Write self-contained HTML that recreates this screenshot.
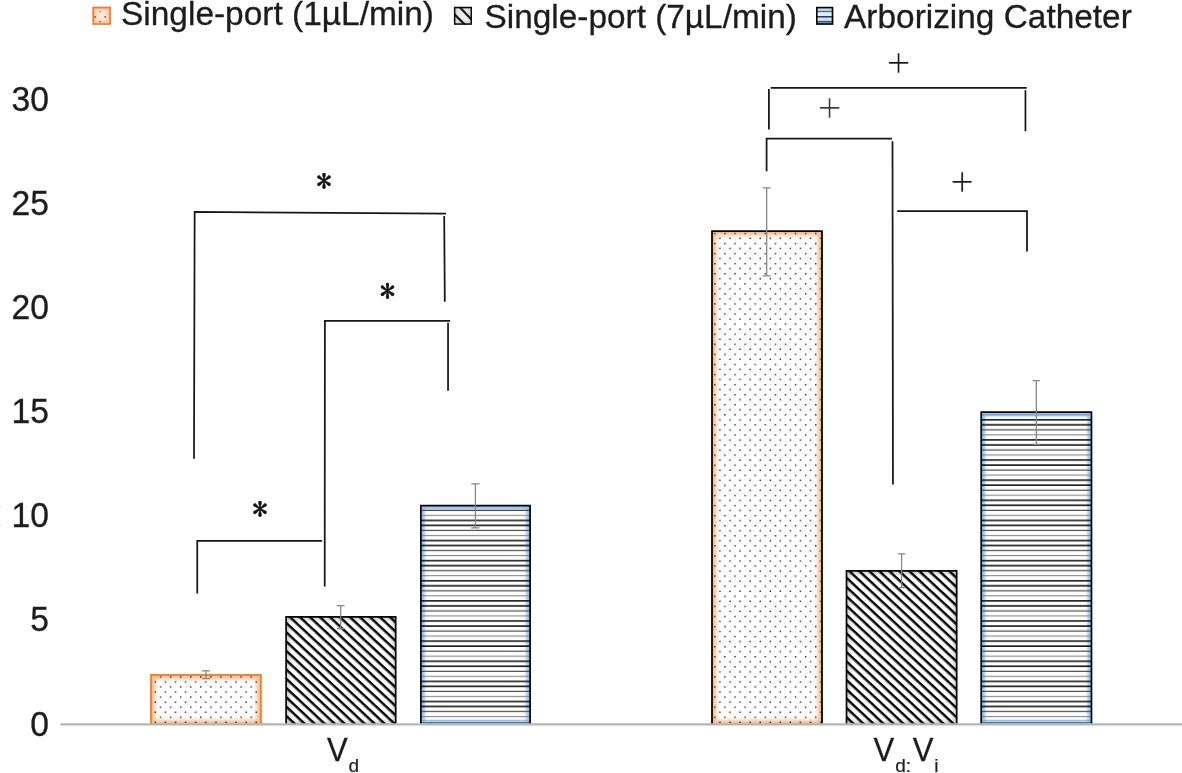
<!DOCTYPE html>
<html lang="en">
<head>
<meta charset="utf-8">
<title>Volume of distribution chart</title>
<style>
html,body{margin:0;padding:0;background:#fff;overflow:hidden}
svg{display:block;opacity:0.999}
text{font-family:"Liberation Sans",sans-serif;fill:#1c1c1c}
.t{font-size:33px;stroke:#1c1c1c;stroke-width:0.3px}
.yl{font-size:34.3px;stroke:#1c1c1c;stroke-width:0.3px;text-anchor:end}
.sub{font-size:19px;stroke-width:0.2px}
.ast{font-family:"IPAGothic","Liberation Serif",serif;font-size:31px;fill:#111;stroke:#111;stroke-width:0.6px}
.plus{font-family:"Liberation Serif",serif;font-size:42px;fill:#161616;stroke:#fff;stroke-width:0.4px}
.br{fill:none;stroke:#161616;stroke-width:1.75}
.eb{fill:none;stroke:#868686;stroke-width:1.25}
</style>
</head>
<body>
<svg width="1182" height="773" viewBox="0 0 1182 773">
<defs>
  <pattern id="dots" x="714.17" y="232.70" width="10.08" height="10.08" patternUnits="userSpaceOnUse">
    <rect x="0" y="0" width="1.4" height="1.4" fill="#262626"/>
    <rect x="5.04" y="5.04" width="1.4" height="1.4" fill="#262626"/>
  </pattern>
  <pattern id="diag" x="287" y="621.98" width="6.810" height="6.810" patternUnits="userSpaceOnUse" patternTransform="rotate(42.92 287 621.98)">
    <rect x="0" y="0" width="6.810" height="2.45" fill="#050505"/>
  </pattern>
  <pattern id="diag5" x="847.4" y="576.93" width="6.810" height="6.810" patternUnits="userSpaceOnUse" patternTransform="rotate(42.92 847.4 576.93)">
    <rect x="0" y="0" width="6.810" height="2.45" fill="#050505"/>
  </pattern>
  <pattern id="hl" x="0" y="434.30" width="20" height="20.12" patternUnits="userSpaceOnUse">
    <rect x="0" y="0.1" width="20" height="1.0" fill="#7a7a7a"/>
    <rect x="0" y="4.88" width="20" height="1.5" fill="#0e0e0e"/>
    <rect x="0" y="9.91" width="20" height="1.5" fill="#060606"/>
    <rect x="0" y="15.09" width="20" height="1.2" fill="#4a4a4a"/>
  </pattern>
  <filter id="blur2" x="-30%" y="-30%" width="160%" height="160%"><feGaussianBlur stdDeviation="1.6"/></filter>
  <filter id="blur3" x="-20%" y="-20%" width="140%" height="140%"><feGaussianBlur stdDeviation="2.3"/></filter>
  <filter id="blur1" x="-20%" y="-20%" width="140%" height="140%"><feGaussianBlur stdDeviation="1.6"/></filter>
  <clipPath id="m1"><rect x="92.5" y="6.8" width="18.4" height="18"/></clipPath>
  <clipPath id="m2"><rect x="454" y="6.8" width="18" height="18"/></clipPath>
  <linearGradient id="blueg" x1="0" y1="0" x2="0" y2="1">
    <stop offset="0" stop-color="#b2d3f3"/><stop offset="0.45" stop-color="#e3f0fb"/><stop offset="0.8" stop-color="#b8d7f3"/><stop offset="1" stop-color="#5f97cf"/>
  </linearGradient>
  <clipPath id="cb1"><rect x="151.0" y="674.8" width="109.90" height="49.50"/></clipPath>
  <clipPath id="cb2"><rect x="286.1" y="616.8" width="109.60" height="107.50"/></clipPath>
  <clipPath id="cb3"><rect x="420.85" y="505.65" width="109.25" height="218.65"/></clipPath>
  <clipPath id="cb4"><rect x="712.0" y="231.2" width="110.00" height="493.10"/></clipPath>
  <clipPath id="cb5"><rect x="846.5" y="570.9" width="110.20" height="153.40"/></clipPath>
  <clipPath id="cb6"><rect x="981.2" y="412.1" width="110.30" height="312.20"/></clipPath>
</defs>

<rect x="0" y="0" width="1182" height="773" fill="#fff"/>

<!-- legend -->
<g>
  <rect x="92.5" y="6.8" width="18.4" height="18" fill="#fbe7d8"/>
  <rect x="92.5" y="6.8" width="18.4" height="18" fill="none" stroke="#f3a873" stroke-width="6" filter="url(#blur2)" clip-path="url(#m1)" opacity="0.75"/>
  <g fill="#5e4a3c">
    <rect x="99.4" y="11.1" width="1.5" height="1.3" opacity="0.6"/><rect x="94.4" y="16.2" width="1.5" height="1.5"/>
    <rect x="104.5" y="16.2" width="1.5" height="1.5"/><rect x="99.4" y="21" width="1.5" height="1.4" opacity="0.8"/>
  </g>
  <rect x="93.25" y="7.55" width="16.9" height="16.5" fill="none" stroke="#ee7d2b" stroke-width="1.5"/>
  <text class="t" x="121" y="24.8" textLength="313" lengthAdjust="spacingAndGlyphs">Single-port (1µL/min)</text>

  <rect x="454" y="6.8" width="18" height="18" fill="#ececec"/>
  <rect x="454" y="6.8" width="18" height="18" fill="none" stroke="#c4c4c4" stroke-width="5" filter="url(#blur2)" clip-path="url(#m2)" opacity="0.8"/>
  <g clip-path="url(#m2)" stroke="#1c1c1c" stroke-width="2.3">
    <line x1="459.4" y1="6.8" x2="473.8" y2="22.1"/><line x1="452" y1="11.9" x2="466.7" y2="26.5"/>
  </g>
  <rect x="454.65" y="7.55" width="16.6" height="16.5" fill="none" stroke="#0a0a0a" stroke-width="1.5"/>
  <text class="t" x="484.6" y="28" textLength="312.2" lengthAdjust="spacingAndGlyphs">Single-port (7µL/min)</text>

  <rect x="816" y="6.8" width="17.3" height="18" fill="url(#blueg)"/>
  <rect x="816" y="10.8" width="17.3" height="1.3" fill="#4f6b86"/>
  <rect x="816" y="16.1" width="17.3" height="1.4" fill="#1b2836"/>
  <rect x="816" y="21.1" width="17.3" height="1.3" fill="#274768"/>
  <rect x="816.8" y="7.6" width="15.7" height="16.4" fill="none" stroke="#060606" stroke-width="1.6"/>
  <text class="t" x="844.1" y="27.8" textLength="287.7" lengthAdjust="spacingAndGlyphs">Arborizing Catheter</text>
</g>

<!-- y axis labels -->
<g>
  <text class="yl" x="48.9" y="735.5" textLength="18.7" lengthAdjust="spacingAndGlyphs">0</text>
  <text class="yl" x="48.9" y="631.4" textLength="18.7" lengthAdjust="spacingAndGlyphs">5</text>
  <text class="yl" x="48.9" y="527.3" textLength="37.4" lengthAdjust="spacingAndGlyphs">10</text>
  <text class="yl" x="48.9" y="423.2" textLength="37.4" lengthAdjust="spacingAndGlyphs">15</text>
  <text class="yl" x="48.9" y="319.1" textLength="37.4" lengthAdjust="spacingAndGlyphs">20</text>
  <text class="yl" x="48.9" y="215.0" textLength="37.4" lengthAdjust="spacingAndGlyphs">25</text>
  <text class="yl" x="48.9" y="111.0" textLength="37.4" lengthAdjust="spacingAndGlyphs">30</text>
</g>

<rect x="0" y="506.6" width="1.2" height="1" fill="#d9d9d9"/><rect x="0" y="524.6" width="1.2" height="1" fill="#d9d9d9"/>

<!-- bars -->
<g>
  <rect x="151.0" y="674.8" width="109.90" height="49.50" fill="#fff"/>
  <rect x="151.0" y="674.8" width="109.90" height="49.50" fill="none" stroke="#f7b98c" stroke-width="8" filter="url(#blur3)" clip-path="url(#cb1)"/>
  <rect x="151.0" y="674.8" width="109.90" height="49.50" fill="url(#dots)"/>
  <path d="M151.0 724.3 V674.8 H260.9 V724.3" fill="none" stroke="#ef7d2b" stroke-width="1.8"/>
</g>
<g>
  <rect x="286.1" y="616.8" width="109.60" height="107.50" fill="#fff"/>
  <rect x="286.1" y="616.8" width="109.60" height="107.50" fill="none" stroke="#bcbcbc" stroke-width="6" filter="url(#blur3)" clip-path="url(#cb2)" opacity="0.8"/>
  <rect x="286.1" y="616.8" width="109.60" height="107.50" fill="url(#diag)"/>
  <path d="M286.1 724.3 V616.8 H395.7 V724.3" fill="none" stroke="#050505" stroke-width="1.7"/>
</g>
<g>
  <rect x="420.85" y="505.65" width="109.25" height="218.65" fill="#fff"/>
  <rect x="420.85" y="505.65" width="109.25" height="218.65" fill="none" stroke="#8fbdee" stroke-width="7.5" filter="url(#blur1)" clip-path="url(#cb3)"/>
  <rect x="420.85" y="508.65" width="109.25" height="212.15" fill="url(#hl)"/>
  <rect x="420.85" y="722.10" width="109.25" height="1.1" fill="#4a6f99"/>
  <path d="M420.85 724.3 V505.65 H530.1 V724.3" fill="none" stroke="#050505" stroke-width="1.7"/>
</g>
<g>
  <rect x="712.0" y="231.2" width="110.00" height="493.10" fill="#fff"/>
  <rect x="712.0" y="231.2" width="110.00" height="493.10" fill="none" stroke="#f7b98c" stroke-width="8" filter="url(#blur3)" clip-path="url(#cb4)"/>
  <rect x="712.0" y="231.2" width="110.00" height="493.10" fill="url(#dots)"/>
  <path d="M713.2 724.3 V232.4 H820.8 V724.3" fill="none" stroke="#f6b080" stroke-width="0.6" opacity="0.7"/>
  <path d="M712.0 724.3 V231.2 H822.0 V724.3" fill="none" stroke="#050505" stroke-width="1.8"/>
</g>
<g>
  <rect x="846.5" y="570.9" width="110.20" height="153.40" fill="#fff"/>
  <rect x="846.5" y="570.9" width="110.20" height="153.40" fill="none" stroke="#bcbcbc" stroke-width="6" filter="url(#blur3)" clip-path="url(#cb5)" opacity="0.8"/>
  <rect x="846.5" y="570.9" width="110.20" height="153.40" fill="url(#diag5)"/>
  <path d="M846.5 724.3 V570.9 H956.7 V724.3" fill="none" stroke="#050505" stroke-width="1.7"/>
</g>
<g>
  <rect x="981.2" y="412.1" width="110.30" height="312.20" fill="#fff"/>
  <rect x="981.2" y="412.1" width="110.30" height="312.20" fill="none" stroke="#8fbdee" stroke-width="7.5" filter="url(#blur1)" clip-path="url(#cb6)"/>
  <rect x="981.2" y="415.1" width="110.30" height="305.70" fill="url(#hl)"/>
  <rect x="981.2" y="414.3" width="110.30" height="1" fill="#7d9cc0"/>
  <rect x="981.2" y="722.10" width="110.30" height="1.1" fill="#4a6f99"/>
  <path d="M981.2 724.3 V412.1 H1091.5 V724.3" fill="none" stroke="#050505" stroke-width="1.7"/>
</g>

<!-- axis -->
<line x1="60.4" y1="724.3" x2="1182" y2="724.3" stroke="#b5b5b5" stroke-width="2.3"/>

<!-- error bars -->
<g class="eb">
  <path d="M206 670.9 V678.7 M202.00 670.9 H210.00 M202.00 678.7 H210.00"/>
  <path d="M340.7 605.6 V628.7 M336.80 605.6 H344.60 M336.80 628.7 H344.60"/>
  <path d="M475.4 483.8 V527.9 M471.30 483.8 H479.50 M471.30 527.9 H479.50"/>
  <path d="M766.7 187.9 V275.9 M762.80 187.9 H770.60 M762.80 275.9 H770.60"/>
  <path d="M901.6 553.9 V587.6 M898.10 553.9 H905.10 M898.10 587.6 H905.10"/>
  <path d="M1036.35 380.7 V444.4 M1032.80 380.7 H1039.90 M1032.80 444.4 H1039.90"/>
</g>

<!-- significance brackets: left group -->
<g class="br">
  <path d="M194 458.8 L194.65 211.9 L446 213.7"/>
  <path d="M444.2 216 L444.8 301.8"/>
  <path d="M324.7 586.5 L324.9 320.9 H450.1"/>
  <path d="M448.05 322.8 V390.7"/>
  <path d="M197.25 593.4 V540.9 H322.15"/>
</g>
<!-- significance brackets: right group -->
<g class="br">
  <path d="M768.9 129.6 V89.05"/>
  <path d="M770.7 87.85 H1026.75"/>
  <path d="M1025.45 90.2 V131.2"/>
  <path d="M766.6 171.3 V138.67 H892"/>
  <path d="M892.5 141.3 L892.95 484.4"/>
  <path d="M897.2 211 H1027 V251.45"/>
</g>

<!-- significance marks -->
<text class="ast" x="324.1" y="191.6" text-anchor="middle">*</text>
<text class="ast" x="387.6" y="302.0" text-anchor="middle">*</text>
<text class="ast" x="260.1" y="519.8" text-anchor="middle">*</text>
<text class="plus" x="898.7" y="76.7" text-anchor="middle">+</text>
<text class="plus" x="829.7" y="122" text-anchor="middle" style="fill:#3a3a3a">+</text>
<text class="plus" x="962" y="196" text-anchor="middle">+</text>

<!-- x labels -->
<text class="t" x="326.9" y="761.2"><tspan textLength="20.7" lengthAdjust="spacingAndGlyphs">V</tspan><tspan class="sub" dy="10.9" dx="0.9">d</tspan></text>
<text class="t" x="873.6" y="761.2"><tspan textLength="20.7" lengthAdjust="spacingAndGlyphs">V</tspan><tspan class="sub" dy="10.9" dx="0.9">d:</tspan><tspan dy="-10.9" dx="1.6" textLength="20.7" lengthAdjust="spacingAndGlyphs">V</tspan><tspan class="sub" dy="10.9" dx="0.8">i</tspan></text>
</svg>
</body>
</html>
